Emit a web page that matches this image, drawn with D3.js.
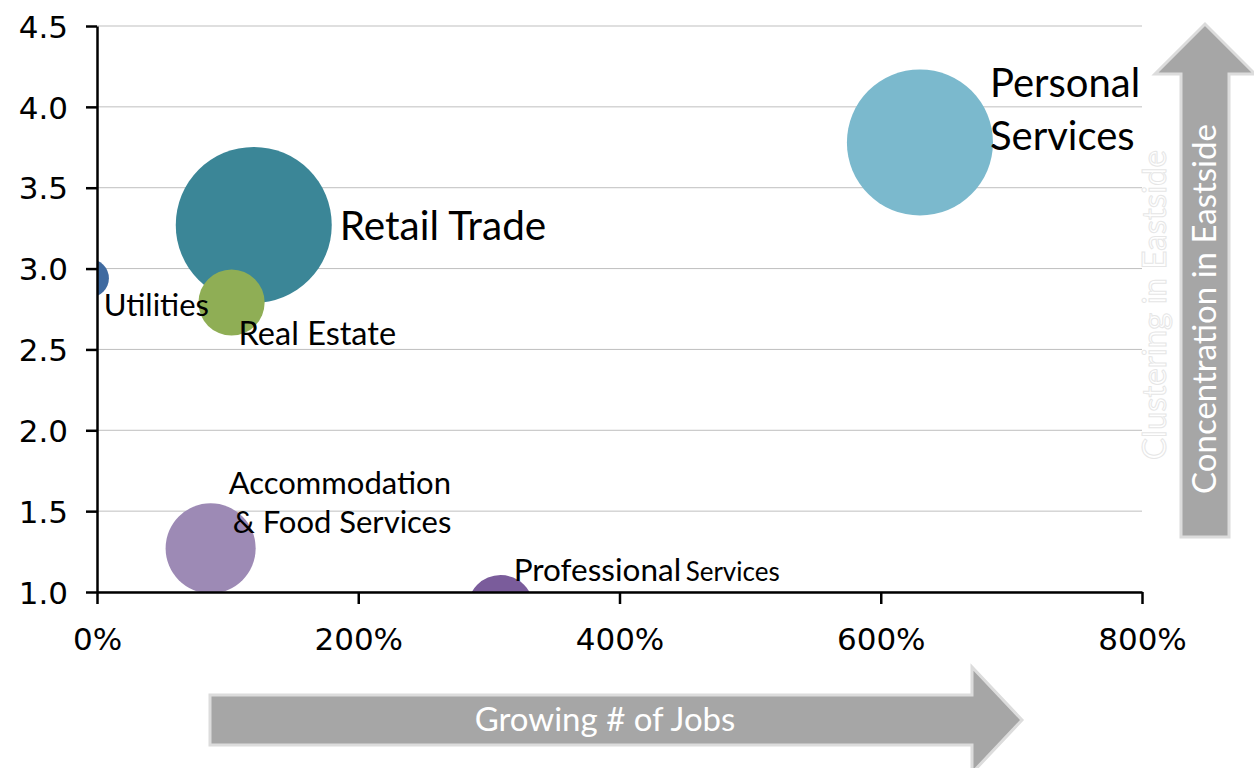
<!DOCTYPE html>
<html>
<head>
<meta charset="utf-8">
<script src="https://cdn.jsdelivr.net/npm/d3@7"></script>
<style>
  body { margin: 0; background: #fff; }
  svg { display: block; }
  .tick text { font-family: "DejaVu Sans", "Liberation Sans", Arial, sans-serif; font-size: 31px; fill: #000; }
  .label { font-family: Lato, "Open Sans", sans-serif; fill: #000; }
</style>
</head>
<body>
<div id="chart"></div>
<script>
// industries and their values
const industries = ['Personal Services', 'Retail Trade', 'Utilities', 'Real Estate', 'Accommodation & Food Services', 'Professional Services'];
const jobGrowth = [630, 120, -5.5, 103, 87, 309];      // % growth in jobs
const concentration = [3.78, 3.27, 2.94, 2.79, 1.27, 0.90];
const jobCount = [2630, 3000, 180, 540, 1000, 540];    // bubble size
const colors = ['#7bb9cd', '#3b8697', '#3f6aa0', '#8fae55', '#9d8ab5', '#7a5c9b'];
const xTicks = [0, 200, 400, 600, 800];
const yTicks = [1.0, 1.5, 2.0, 2.5, 3.0, 3.5, 4.0, 4.5];

const width = 1254;
const height = 768;
const margin = { top: 26, right: 112, bottom: 176, left: 97 };
const innerW = width - margin.left - margin.right;
const innerH = height - margin.top - margin.bottom;

const svg = d3.select('#chart')
    .append('svg')
    .attr('width', width)
    .attr('height', height);

const x = d3.scaleLinear().domain([0, 800]).range([0, innerW]);
const y = d3.scaleLinear().domain([1.0, 4.5]).range([innerH, 0]);
const r = d3.scaleSqrt().domain([0, 3000]).range([0, 78]);

svg.append('defs').append('clipPath')
    .attr('id', 'plot-clip')
    .append('rect')
    .attr('width', innerW)
    .attr('height', innerH);

const g = svg.append('g')
    .attr('transform', `translate(${margin.left},${margin.top})`);

// gridlines
g.append('g')
    .selectAll('line')
    .data(yTicks)
    .enter()
    .append('line')
    .attr('x1', 0)
    .attr('x2', innerW)
    .attr('y1', d => y(d))
    .attr('y2', d => y(d))
    .attr('stroke', '#bfbfbf')
    .attr('stroke-width', 1);

const data = industries.map((name, i) => ({
    name: name,
    growth: jobGrowth[i],
    conc: concentration[i],
    jobs: jobCount[i],
    color: colors[i]
}));

// bubbles, clipped to the plot area
g.append('g')
    .attr('clip-path', 'url(#plot-clip)')
    .selectAll('circle')
    .data(data)
    .enter()
    .append('circle')
    .attr('cx', d => x(d.growth))
    .attr('cy', d => y(d.conc))
    .attr('r', d => r(d.jobs))
    .attr('fill', d => d.color);

// axes
const yAxis = d3.axisLeft(y)
    .tickValues(yTicks)
    .tickFormat(d3.format('.1f'))
    .tickSize(11)
    .tickSizeOuter(0)
    .tickPadding(18);

const xAxis = d3.axisBottom(x)
    .tickValues(xTicks)
    .tickFormat(d => d + '%')
    .tickSize(12)
    .tickSizeOuter(0)
    .tickPadding(24);

const yG = g.append('g').call(yAxis);
const xG = g.append('g').attr('transform', `translate(0,${innerH})`).call(xAxis);

[yG, xG].forEach(a => {
    a.select('.domain').attr('stroke', '#000').attr('stroke-width', 2.5);
    a.selectAll('.tick line').attr('stroke', '#000').attr('stroke-width', 2.5);
});
yG.selectAll('.tick text').attr('dy', '0.36em');

// bubble labels, placed relative to each bubble centre
const labelLayout = {
    'Personal Services': [{ t: 'Personal', dx: 70, dy: -45, s: 40 }, { t: 'Services', dx: 70, dy: 8, s: 40 }],
    'Retail Trade': [{ t: 'Retail Trade', dx: 86, dy: 15, s: 40.5 }],
    'Utilities': [{ t: 'Utilities', dx: 14, dy: 38, s: 31 }],
    'Real Estate': [{ t: 'Real Estate', dx: 7, dy: 42, s: 32.5 }],
    'Accommodation & Food Services': [{ t: 'Accommodation', dx: 18, dy: -54, s: 31 }, { t: '& Food Services', dx: 22, dy: -15, s: 31 }],
    'Professional Services': [{ t: 'Professional', dx: 13, dy: -27, s: 31.5 }, { t: 'Services', dx: 185, dy: -27, s: 26 }]
};

data.forEach(d => {
    labelLayout[d.name].forEach(l => {
        g.append('text')
            .attr('class', 'label')
            .attr('x', x(d.growth) + l.dx)
            .attr('y', y(d.conc) + l.dy)
            .style('font-size', l.s + 'px')
            .text(l.t);
    });
});

// horizontal arrow: Growing # of Jobs
const hx0 = 210, hx1 = 972, htip = 1022, hy = 720;
svg.append('path')
    .attr('d', `M${hx0},${hy - 25} L${hx1},${hy - 25} L${hx1},${hy - 53} L${htip},${hy} L${hx1},${hy + 53} L${hx1},${hy + 25} L${hx0},${hy + 25} Z`)
    .attr('fill', '#a6a6a6')
    .attr('stroke', '#dcdcdc')
    .attr('stroke-width', 3);
svg.append('text')
    .attr('class', 'label')
    .attr('x', 605)
    .attr('y', hy + 11)
    .attr('text-anchor', 'middle')
    .style('font-size', '33px')
    .style('fill', '#fff')
    .text('Growing # of Jobs');

// vertical arrow: Concentration in Eastside
const vx = 1205, vy0 = 537, vy1 = 74, vtip = 24;
svg.append('path')
    .attr('d', `M${vx - 24},${vy0} L${vx - 24},${vy1} L${vx - 50},${vy1} L${vx},${vtip} L${vx + 50},${vy1} L${vx + 24},${vy1} L${vx + 24},${vy0} Z`)
    .attr('fill', '#a6a6a6')
    .attr('stroke', '#dcdcdc')
    .attr('stroke-width', 3);
svg.append('text')
    .attr('class', 'label')
    .attr('transform', `translate(${vx + 11},309) rotate(-90)`)
    .attr('text-anchor', 'middle')
    .style('font-size', '33px')
    .style('fill', '#fff')
    .text('Concentration in Eastside');

// faint ghost title
svg.append('text')
    .attr('class', 'label')
    .attr('transform', 'translate(1166,305) rotate(-90)')
    .attr('text-anchor', 'middle')
    .style('font-size', '33px')
    .style('fill', '#fff')
    .style('stroke', '#e6e6e6')
    .style('stroke-width', 1)
    .text('Clustering in Eastside');
</script>
</body>
</html>
